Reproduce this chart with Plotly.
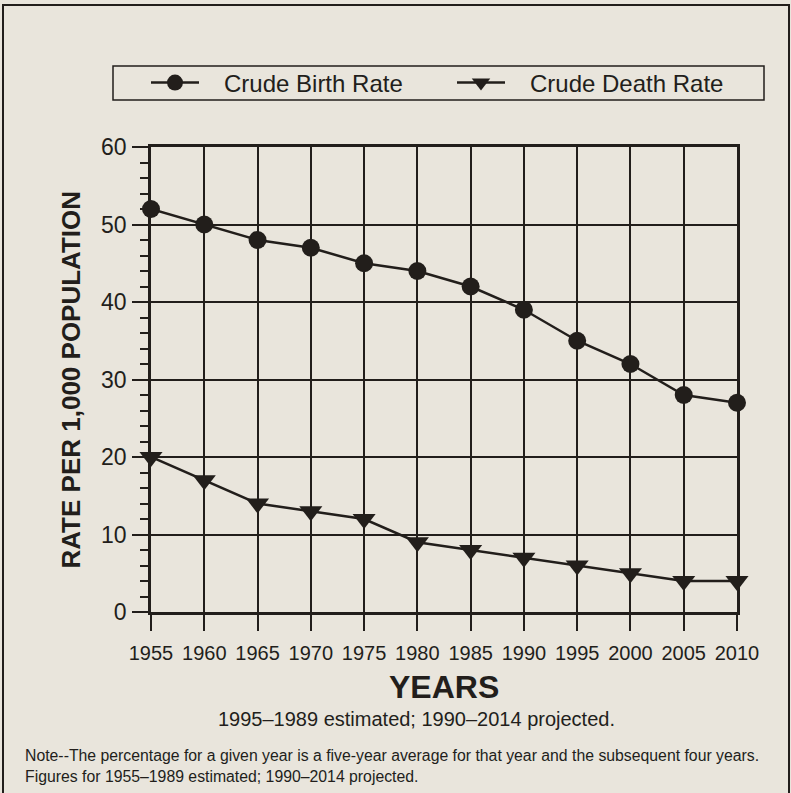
import plotly.graph_objects as go

# データ
YEARS = [1955, 1960, 1965, 1970, 1975, 1980, 1985, 1990, 1995, 2000, 2005, 2010]
BIRTH_RATE = [52, 50, 48, 47, 45, 44, 42, 39, 35, 32, 28, 27]
DEATH_RATE = [20, 17, 14, 13, 12, 9, 8, 7, 6, 5, 4, 4]
Y_TICKS = [0, 10, 20, 30, 40, 50, 60]

INK = "#221e1b"
BG = "#e9e5dc"
FONT = "Liberation Sans, Arial, sans-serif"
NB = "\u00a0" * 3  # 凡例の記号と文字の間隔

# プロット領域 (px): x 151-737, y 147-612
W, H = 791, 793
L, R, T, B = 151, 54, 147, 181
PW, PH = W - L - R, H - T - B


def px(x):
    return (x - L) / PW


def py(y):
    return (H - B - y) / PH


fig = go.Figure()

fig.add_trace(go.Scatter(
    x=YEARS, y=BIRTH_RATE, mode="lines+markers", name=NB + "Crude Birth Rate",
    line=dict(color=INK, width=2.5), cliponaxis=False,
    marker=dict(symbol="circle", size=18, color=INK),
))
fig.add_trace(go.Scatter(
    x=YEARS, y=DEATH_RATE, mode="lines+markers", name=NB + "Crude Death Rate",
    line=dict(color=INK, width=2.5), cliponaxis=False,
    marker=dict(symbol="triangle-down", size=20, color=INK),
))

# 外枠と凡例枠
fig.add_shape(type="rect", xref="paper", yref="paper",
              x0=px(3), x1=px(789), y0=py(800), y1=py(5),
              line=dict(color=INK, width=2), layer="below")
fig.add_shape(type="rect", xref="paper", yref="paper",
              x0=px(113), x1=px(764), y0=py(100), y1=py(66),
              line=dict(color=INK, width=1.5), layer="below")

fig.add_annotation(text="<b>YEARS</b>", x=0.5, y=py(687), xref="paper", yref="paper",
                   xanchor="center", yanchor="middle", showarrow=False,
                   font=dict(size=32, color=INK, family=FONT))
fig.add_annotation(text="<b>RATE PER 1,000 POPULATION</b>", x=px(70), y=0.5,
                   xref="paper", yref="paper", xanchor="center", yanchor="middle",
                   textangle=-90, showarrow=False,
                   font=dict(size=26, color=INK, family=FONT))
fig.add_annotation(text="1995–1989 estimated; 1990–2014 projected.",
                   x=px(416), y=py(719), xref="paper", yref="paper",
                   xanchor="center", yanchor="middle", showarrow=False,
                   font=dict(size=20, color=INK, family=FONT))
fig.add_annotation(
    text="Note--The percentage for a given year is a five-year average for that year and the subsequent four years.<br>"
         "Figures for 1955–1989 estimated; 1990–2014 projected.",
    x=px(23), y=py(766), xref="paper", yref="paper", xanchor="left", yanchor="middle",
    align="left", showarrow=False, font=dict(size=15.8, color=INK, family=FONT))

fig.update_xaxes(
    range=[1955, 2010], tickvals=YEARS, ticks="outside", ticklen=16, tickwidth=2,
    tickcolor=INK, ticklabelstandoff=5,
    tickfont=dict(size=20, color=INK, family=FONT),
    showgrid=True, gridcolor=INK, gridwidth=1.5,
    showline=True, linecolor=INK, linewidth=2.5, mirror=True, zeroline=False,
)
fig.update_yaxes(
    range=[0, 60], tickvals=Y_TICKS, ticks="outside", ticklen=16, tickwidth=2,
    tickcolor=INK, ticklabelstandoff=1,
    tickfont=dict(size=23, color=INK, family=FONT),
    minor=dict(dtick=2, ticks="outside", ticklen=8, tickwidth=1.5, tickcolor=INK, showgrid=False),
    showgrid=True, gridcolor=INK, gridwidth=1.5,
    showline=True, linecolor=INK, linewidth=2.5, mirror=True, zeroline=False,
)

fig.update_layout(
    width=W, height=H,
    margin=dict(l=L, r=R, t=T, b=B),
    paper_bgcolor=BG, plot_bgcolor=BG,
    font=dict(family=FONT, color=INK),
    showlegend=True,
    legend=dict(orientation="h", x=px(146), y=py(83), xanchor="left", yanchor="middle",
                entrywidth=243, entrywidthmode="pixels", itemwidth=48,
                font=dict(size=24, color=INK, family=FONT), bgcolor="rgba(0,0,0,0)"),
)

fig.write_html("out.html", config={"displayModeBar": False},
               post_script="document.body.style.margin='0px';")
